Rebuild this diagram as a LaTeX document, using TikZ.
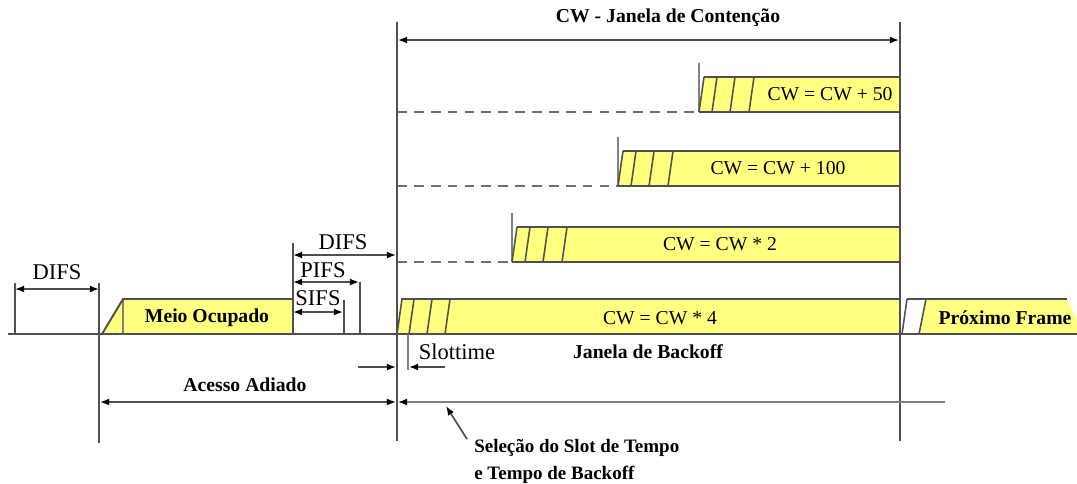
\documentclass[tikz,border=0pt]{standalone}
\usepackage{fontspec}
\setmainfont{Liberation Serif}
\usetikzlibrary{positioning,arrows.meta}

\definecolor{barfill}{HTML}{FFFF80}
\definecolor{linegray}{HTML}{505050}
\definecolor{dashgray}{HTML}{6E6E6E}

\tikzset{
  edge/.style={draw=linegray, line width=1.4pt},
  tick/.style={draw=gray, line width=0.8pt},
  slant/.style={draw=linegray, line width=1.1pt},
  wait/.style={draw=dashgray, line width=1.4pt, dash pattern=on 7pt off 5pt},
  dim/.style={draw=linegray, line width=1.2pt},
  lbl/.style={font=\fontsize{16}{18}\selectfont, inner sep=1pt},
  bartext/.style={font=\fontsize{14}{16}\selectfont, inner sep=1pt},
  boldtext/.style={font=\fontsize{14}{16}\selectfont\bfseries, inner sep=1pt}
}

\begin{document}
\begin{tikzpicture}[x=0.025cm, y=-0.025cm, >={Latex[length=6.5pt,width=5pt,fill=black,color=black]}]
    \useasboundingbox (0,0) rectangle (1077,483);

    % time marks on the medium line
    \coordinate (t0) at (15,334);
    \coordinate (t1) at (99,334);
    \coordinate (t2) at (293,334);
    \coordinate (t3) at (344,334);
    \coordinate (t4) at (360,334);
    \coordinate (t5) at (397,334);
    \coordinate (t6) at (900,334);

    % medium busy
    \fill[barfill] (102,334) -- (123,299) -- (293,299) -- (t2) -- cycle;
    \draw[tick] (123,299) -- (123,334);
    \draw[edge] (102,334) -- (123,299) -- (293,299);
    \node (busy) [boldtext] at (207,318) {Meio Ocupado};

    % backoff bars
    \fill[barfill] (t5) -- (401,299) -- (900,299) -- (t6) -- cycle;
    \draw[edge] (401,299) -- (900,299);
    \foreach \h in {0,12,30,48}
        \draw[slant] (397+\h,334) -- (402+\h,299);
    \node (cw4) [bartext] at (660,318) {CW = CW * 4};

    \foreach \x/\t/\txt/\tx in {512/227/{CW = CW * 2}/720,
                                618/151/{CW = CW + 100}/778,
                                699/77/{CW = CW + 50}/830} {
        \fill[barfill] (\x,\t+35) -- (\x+5,\t) -- (900,\t) -- (900,\t+35) -- cycle;
        \draw[edge] (\x+5,\t) -- (900,\t);
        \draw[edge] (\x,\t+35) -- (900,\t+35);
        \draw[wait] (397,\t+35) -- (\x,\t+35);
        \draw[tick] (\x,\t-14) -- (\x,\t+35);
        \foreach \h in {0,13,31,50}
            \draw[slant] (\x+\h,\t+35) -- (\x+\h+5,\t);
        \node (cw\x) [bartext] at (\tx,\t+17) {\txt};
    }

    % next frame
    \fill[barfill] (920,334) -- (926,299) -- (1067,299) -- (1077,320) -- (1077,334) -- cycle;
    \draw[edge] (907,299) -- (1067,299);
    \draw[slant] (902,334) -- (907,299);
    \draw[slant] (919,334) -- (926,299);
    \node (next) [boldtext] at (1005,318) {Próximo Frame};

    % medium line and marks
    \draw[edge] (8,334) -- (1077,334);
    \draw[edge] (t0) -- ++(0,-51);
    \draw[edge] (99,283) -- (99,443);
    \draw[edge] (t2) -- ++(0,-91);
    \draw[edge] (t3) -- ++(0,-34);
    \draw[edge] (t4) -- ++(0,-52);
    \draw[edge] (397,22) -- (397,441);
    \draw[edge] (900,22) -- (900,441);

    % interframe spaces
    \draw[dim, <->] (15,289) -- node[lbl, above=5pt] (difs0) {DIFS} (99,289);
    \draw[dim, <->] (293,255) -- (396,255);
    \node (difs1) [lbl] at (343,242) {DIFS};
    \draw[dim, <->] (293,282) -- (359,282);
    \node (pifs) [lbl] at (323,270) {PIFS};
    \draw[dim, <->] (293,312) -- (343,312);
    \node (sifs) [lbl] at (318,298) {SIFS};

    % contention window
    \draw[dim, <->] (398,40) -- (899,40);
    \node (cwin) [boldtext] at (668,18) {CW - Janela de Contenção};

    % slot time
    \draw[tick] (408,334) -- (408,370);
    \draw[dim, ->] (358,367) -- (396,367);
    \draw[dim, ->] (445,367) -- (409,367);
    \node (slot) [lbl] at (457,352) {Slottime};
    \node (jbo) [boldtext] at (648,352) {Janela de Backoff};

    % deferred access
    \draw[dim, <->] (100,402) -- (396,402);
    \node (defer) [boldtext] at (245,385) {Acesso Adiado};
    \draw[draw=gray, line width=1pt, <-] (398,402) -- (945,402);
    \node (sel) [font=\fontsize{13.5}{19}\selectfont\bfseries, align=left, anchor=north west, inner sep=0pt]
        at (474,439) {Seleção do Slot de Tempo\\e Tempo de Backoff};
    \draw[dim, ->] (467,439) -- (446,406);
\end{tikzpicture}
\end{document}
